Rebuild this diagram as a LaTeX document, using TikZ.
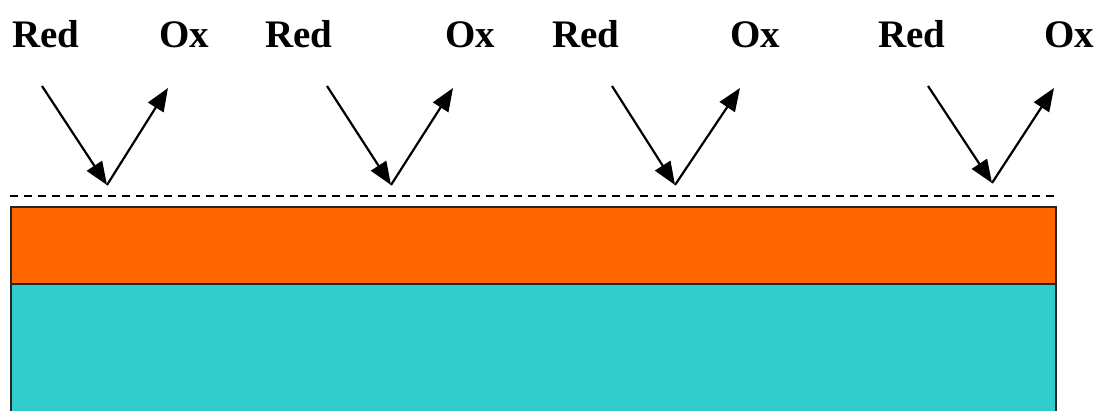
\documentclass[tikz,border=0pt]{standalone}
\usepackage{fontspec}
\setmainfont{Liberation Serif}
\usetikzlibrary{arrows.meta}
\definecolor{layerorange}{HTML}{FF6600}
\definecolor{layercyan}{HTML}{33CCCC}
\begin{document}
\begin{tikzpicture}[x=1pt,y=1pt,
  lbl/.style={anchor=base,inner sep=0pt,font=\fontsize{39}{40}\selectfont\bfseries},
  rx/.style={line width=2.2pt,-{Triangle[length=23pt,width=18pt]}},
  layer/.style={draw=black!85,line width=2pt}]
\useasboundingbox (0,0) rectangle (1100,410);
% layers
\path[layer,fill=layercyan] (11,-5) rectangle (1056,126);
\path[layer,fill=layerorange] (11,126) rectangle (1056,203);
\coordinate (dl) at (10,214);
\coordinate (dr) at (1056,214);
\draw[line width=1.8pt,dash pattern=on 8pt off 6pt] (dl) -- (dr);
% labels
\node[lbl] (r1) at (46,362) {Red};
\node[lbl] (o1) at (184,362) {Ox};
\node[lbl] (r2) at (299,362) {Red};
\node[lbl] (o2) at (470,362) {Ox};
\node[lbl] (r3) at (586,362) {Red};
\node[lbl] (o3) at (755,362) {Ox};
\node[lbl] (r4) at (912,362) {Red};
\node[lbl] (o4) at (1069,362) {Ox};
% arrow points
\coordinate (s1) at (42,324);  \coordinate (v1) at (107,225); \coordinate (t1) at (168,322);
\coordinate (s2) at (327,324); \coordinate (v2) at (391,225); \coordinate (t2) at (453,322);
\coordinate (s3) at (612,324); \coordinate (v3) at (675,225); \coordinate (t3) at (740,322);
\coordinate (s4) at (928,324); \coordinate (v4) at (992,227); \coordinate (t4) at (1054,322);
\foreach \i in {1,2,3,4}{
  \draw[rx] (s\i) -- (v\i);
  \draw[rx] (v\i) -- (t\i);
}
\end{tikzpicture}
\end{document}
